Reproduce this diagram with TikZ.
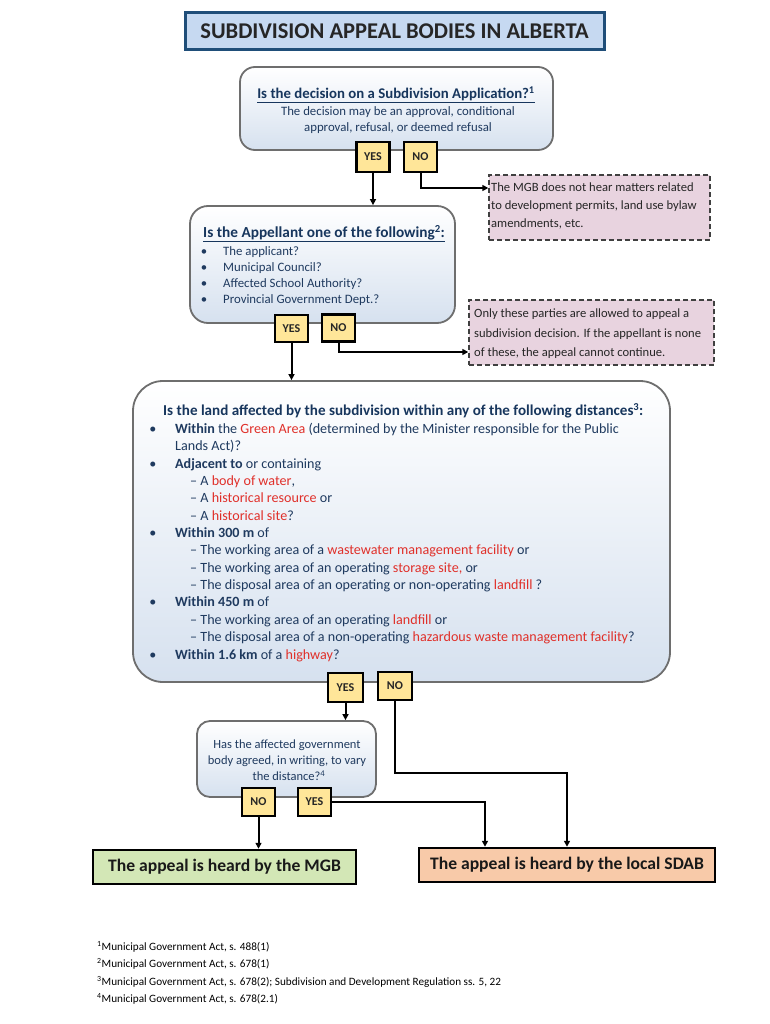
\documentclass[tikz,border=0pt]{standalone}
\usepackage{fontspec}
\setmainfont{Carlito}
\usetikzlibrary{arrows.meta}
\definecolor{titlefill}{HTML}{C6D9F1}
\definecolor{titleblue}{HTML}{1F4E79}
\definecolor{gradblue}{HTML}{D6E1EF}
\definecolor{roundgray}{HTML}{6E6E6E}
\definecolor{ynfill}{HTML}{FFE699}
\definecolor{pinkfill}{HTML}{E8D3DF}
\definecolor{mgbgreen}{HTML}{D3E7B6}
\definecolor{sdabfill}{HTML}{F8CAA9}
\definecolor{navy}{HTML}{1F3A5F}
\definecolor{navyb}{HTML}{17365D}
\definecolor{myred}{HTML}{E0302A}
\newcommand{\fs}[2]{\fontsize{#1pt}{#2pt}\selectfont}
\newcommand{\rd}[1]{\textcolor{myred}{#1}}
\begin{document}
\begin{tikzpicture}[x=1pt,y=-1pt,
  rbox/.style={draw=roundgray, line width=1.8pt, top color=white, bottom color=gradblue, inner sep=0pt},
  ynbox/.style={draw=black, line width=2.6pt, fill=ynfill, inner sep=0pt, minimum width=33pt, minimum height=28pt, font=\fs{12}{14}\bfseries, text=black!85},
  dbox/.style={draw=black!75, dash pattern=on 5pt off 3pt, line width=1.4pt, fill=pinkfill, inner sep=0pt},
  txt/.style={inner sep=0pt, yshift=-2pt, font=\fs{12.8}{16}, text=navy},
  btxt/.style={inner sep=0pt, yshift=-2pt, font=\fs{14.8}{16}\bfseries, text=navyb},
  ltxt/.style={inner sep=0pt, yshift=-2pt, font=\fs{14.1}{16}, text=navy},
  ptxt/.style={inner sep=0pt, yshift=-2pt, font=\fs{12.6}{16}, text=black!85},
  ftxt/.style={inner sep=0pt, yshift=-2pt, font=\fs{11.2}{12}, text=black},
  endbox/.style={draw=black, line width=2.5pt, inner sep=0pt, minimum height=34pt, font=\fs{17.6}{20}\bfseries, text=black!90},
  arr/.style={draw=black, line width=2pt, -{Triangle[length=6pt,width=6pt]}},
  ln/.style={draw=black, line width=2pt}]
\useasboundingbox[fill=white] (0,0) rectangle (770,1024);

% title
\node[draw=titleblue, line width=3pt, fill=titlefill, minimum width=419pt, minimum height=37pt, inner sep=0pt, font=\fs{22.5}{24}\bfseries, text=black!85] (title) at (394.5,31.5) {SUBDIVISION APPEAL BODIES IN ALBERTA};

% box 1
\node[rbox, rounded corners=15pt, minimum width=313pt, minimum height=83pt] (b1) at (396.5,108.5) {};
\node[btxt, anchor=mid] (b1t) at (396,94) {\underline{Is the decision on a Subdivision Application?\textsuperscript{1}}};
\node[txt, anchor=mid] (b1a) at (398,111) {The decision may be an approval, conditional};
\node[txt, anchor=mid] (b1b) at (398,127) {approval, refusal, or deemed refusal};
\node[ynbox, minimum height=30pt] (y1) at (373,157) {YES};
\node[ynbox, minimum height=30pt] (n1) at (420.5,157) {NO};

% box 3
\node[dbox, minimum width=221pt, minimum height=65pt] (b3) at (599.5,207.5) {};
\node[ptxt, anchor=mid west] (b3a) at (491,187) {The MGB does not hear matters related};
\node[ptxt, anchor=mid west] (b3b) at (491,205) {to development permits, land use bylaw};
\node[ptxt, anchor=mid west] (b3c) at (491,223) {amendments, etc.};

% box 2
\node[rbox, rounded corners=18pt, minimum width=265pt, minimum height=117pt] (b2) at (322.5,264.5) {};
\node[btxt, font=\fs{15.3}{16}\bfseries, anchor=mid west] (b2t) at (203,233) {\underline{Is the Appellant one of the following\textsuperscript{2}:}};
\foreach \yy/\tt [count=\i] in {251/The applicant?, 267/Municipal Council?, 283/Affected School Authority?, 299/Provincial Government Dept.?}{
  \node[txt, anchor=mid] (b2bul\i) at (204,\yy) {\textbullet};
  \node[txt, anchor=mid west] (b2l\i) at (223,\yy) {\tt};
}
\node[ynbox, minimum height=27pt] (y2) at (291.5,328.5) {YES};
\node[ynbox, minimum height=27pt] (n2) at (338.5,328) {NO};

% box 5
\node[dbox, minimum width=245pt, minimum height=65pt] (b5) at (591.5,332.5) {};
\node[ptxt, anchor=mid west] (b5a) at (474,313) {Only these parties are allowed to appeal a};
\node[ptxt, anchor=mid west] (b5b) at (474,333) {subdivision decision. If the appellant is none};
\node[ptxt, anchor=mid west] (b5c) at (474,352) {of these, the appeal cannot continue.};

% box 4
\node[rbox, rounded corners=30pt, minimum width=537pt, minimum height=301pt] (b4) at (401.5,531.5) {};
\node[btxt, font=\fs{15.1}{16}\bfseries, anchor=mid west] (b4t) at (163,411) {Is the land affected by the subdivision within any of the following distances\textsuperscript{3}:};
\node[ltxt, anchor=mid] (b4u1) at (153,429) {\textbullet};
\node[ltxt, anchor=mid west] (b4l1) at (175,429) {\textbf{Within} the \rd{Green Area} (determined by the Minister responsible for the Public};
\node[ltxt, anchor=mid west] (b4l2) at (175,446.4) {Lands Act)?};
\node[ltxt, anchor=mid] (b4u2) at (153,463.7) {\textbullet};
\node[ltxt, anchor=mid west] (b4l3) at (175,463.7) {\textbf{Adjacent to} or containing};
\node[ltxt, anchor=mid west] (b4l4) at (190,481.1) {– A \rd{body of water},};
\node[ltxt, anchor=mid west] (b4l5) at (190,498.4) {– A \rd{historical resource} or};
\node[ltxt, anchor=mid west] (b4l6) at (190,515.8) {– A \rd{historical site}?};
\node[ltxt, anchor=mid] (b4u3) at (153,533.2) {\textbullet};
\node[ltxt, anchor=mid west] (b4l7) at (175,533.2) {\textbf{Within 300 m} of};
\node[ltxt, anchor=mid west] (b4l8) at (190,550.5) {– The working area of a \rd{wastewater management facility} or};
\node[ltxt, anchor=mid west] (b4l9) at (190,567.9) {– The working area of an operating \rd{storage site,} or};
\node[ltxt, anchor=mid west] (b4l10) at (190,585.2) {– The disposal area of an operating or non-operating \rd{landfill} ?};
\node[ltxt, anchor=mid] (b4u4) at (153,602.6) {\textbullet};
\node[ltxt, anchor=mid west] (b4l11) at (175,602.6) {\textbf{Within 450 m} of};
\node[ltxt, anchor=mid west] (b4l12) at (190,620) {– The working area of an operating \rd{landfill} or};
\node[ltxt, anchor=mid west] (b4l13) at (190,637.3) {– The disposal area of a non-operating \rd{hazardous waste management facility}?};
\node[ltxt, anchor=mid] (b4u5) at (153,654.7) {\textbullet};
\node[ltxt, anchor=mid west] (b4l14) at (175,654.7) {\textbf{Within 1.6 km} of a \rd{highway}?};
\node[ynbox, minimum width=35pt, minimum height=29pt] (y4) at (345.5,687.5) {YES};
\node[ynbox, minimum width=34pt, minimum height=28pt] (n4) at (395,686) {NO};

% box 6
\node[rbox, rounded corners=13pt, minimum width=179pt, minimum height=76pt] (b6) at (286.5,759) {};
\node[txt, font=\fs{12.5}{16}, anchor=mid] (b6a) at (287,744) {Has the affected government};
\node[txt, font=\fs{12.5}{16}, anchor=mid] (b6b) at (287,760) {body agreed, in writing, to vary};
\node[txt, font=\fs{12.5}{16}, anchor=mid] (b6c) at (289,776) {the distance?\textsuperscript{4}};
\node[ynbox] (n6) at (258.5,802) {NO};
\node[ynbox] (y6) at (314.5,802) {YES};

% end boxes
\node[endbox, fill=mgbgreen, minimum width=263pt] (mgb) at (224.5,867) {The appeal is heard by the MGB};
\node[endbox, fill=sdabfill, minimum width=296pt] (sdab) at (567,865) {The appeal is heard by the local SDAB};

% connectors
\coordinate (k1) at (0,188);
\coordinate (k2) at (0,352);
\coordinate (k3) at (0,773);
\coordinate (k4) at (485,0);
\draw[arr] (y1.south) -- (y1.south |- b2.north);
\draw[arr] (n1.south) |- (b3.west |- k1);
\draw[arr] (y2.south) -- (y2.south |- b4.north);
\draw[arr] (n2.south) |- (b5.west |- k2);
\draw[arr] (y4.south) -- (y4.south |- b6.north);
\draw[arr] (n4.south) -- (n4.south |- k3) -| (sdab.north);
\draw[arr] (n6.south) -- (n6.south |- mgb.north);
\draw[arr] (y6.east) -| (k4 |- sdab.north);

% footnotes
\node[ftxt, anchor=mid west] (f1) at (97,946) {\textsuperscript{1}Municipal Government Act, s. 488(1)};
\node[ftxt, anchor=mid west] (f2) at (97,963.5) {\textsuperscript{2}Municipal Government Act, s. 678(1)};
\node[ftxt, anchor=mid west] (f3) at (97,981) {\textsuperscript{3}Municipal Government Act, s. 678(2); Subdivision and Development Regulation ss. 5, 22};
\node[ftxt, anchor=mid west] (f4) at (97,998.5) {\textsuperscript{4}Municipal Government Act, s. 678(2.1)};
\end{tikzpicture}
\end{document}
